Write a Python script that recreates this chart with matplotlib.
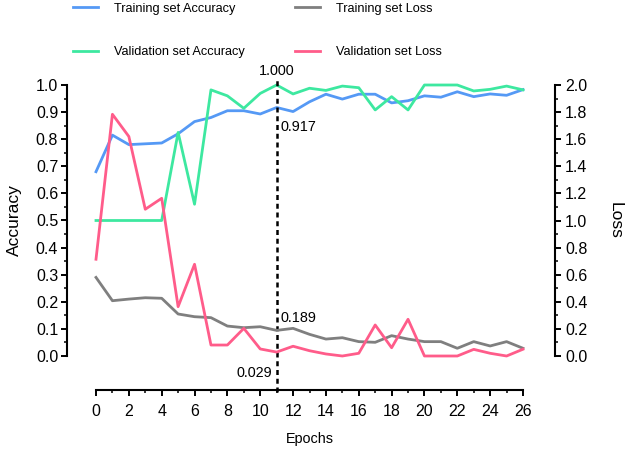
import numpy as np
import matplotlib.pyplot as plt
from matplotlib.ticker import MultipleLocator

plt.rcParams['font.family'] = ['Liberation Sans', 'DejaVu Sans']

epochs = np.arange(27)
train_acc = [0.68, 0.815, 0.78, 0.783, 0.786, 0.82, 0.865, 0.88, 0.905, 0.905,
             0.893, 0.917, 0.902, 0.938, 0.966, 0.948, 0.966, 0.966, 0.934, 0.942,
             0.96, 0.955, 0.975, 0.957, 0.967, 0.962, 0.983]
val_acc = [0.5, 0.5, 0.5, 0.5, 0.5, 0.825, 0.56, 0.982, 0.96, 0.914,
           0.969, 1.0, 0.967, 0.988, 0.98, 0.996, 0.99, 0.908, 0.957, 0.908,
           1.0, 1.0, 1.0, 0.978, 0.984, 0.996, 0.982]
train_loss = [0.58, 0.408, 0.42, 0.43, 0.426, 0.31, 0.29, 0.283, 0.221, 0.209,
              0.216, 0.189, 0.204, 0.16, 0.125, 0.135, 0.106, 0.101, 0.15, 0.125,
              0.106, 0.106, 0.057, 0.106, 0.074, 0.106, 0.057]
val_loss = [0.714, 1.784, 1.62, 1.083, 1.164, 0.364, 0.677, 0.081, 0.081, 0.204,
            0.052, 0.029, 0.072, 0.039, 0.015, 0.0, 0.02, 0.229, 0.061, 0.271,
            0.0, 0.0, 0.0, 0.049, 0.02, 0.0, 0.05]
best_epoch = 11

c_ta = '#5599f5'
c_va = '#3de8a0'
c_tl = '#7f7f7f'
c_vl = '#ff5c8a'

fig = plt.figure(figsize=(6.29, 4.49), dpi=100)
ax = fig.add_axes([96 / 629, 1 - 356 / 449, 427 / 629, 271 / 449])
ax2 = ax.twinx()

l1, = ax.plot(epochs, train_acc, color=c_ta, lw=2, clip_on=False, zorder=3)
l2, = ax.plot(epochs, val_acc, color=c_va, lw=2, clip_on=False, zorder=3)
l3, = ax2.plot(epochs, train_loss, color=c_tl, lw=2, clip_on=False, zorder=3)
l4, = ax2.plot(epochs, val_loss, color=c_vl, lw=2, clip_on=False, zorder=3)

ax.set_xlim(0, 26)
ax.set_ylim(0, 1)
ax2.set_ylim(0, 2)

# dashed marker at the best epoch
ax.plot([best_epoch, best_epoch], [-0.133, 1.026], color='black', lw=1.8,
        ls=(0, (2, 1.5)), clip_on=False, zorder=4)

fs = 10.4
ax.text(best_epoch, 1.027, '%.3f' % val_acc[best_epoch], ha='center', va='bottom', fontsize=fs)
ax.text(best_epoch + 0.25, train_acc[best_epoch] - 0.045, '%.3f' % train_acc[best_epoch],
        ha='left', va='top', fontsize=fs)
ax2.text(best_epoch + 0.25, train_loss[best_epoch] + 0.04, '%.3f' % train_loss[best_epoch],
         ha='left', va='bottom', fontsize=fs)
ax2.text(best_epoch - 0.25, val_loss[best_epoch] - 0.1, '%.3f' % val_loss[best_epoch],
         ha='right', va='top', fontsize=fs)

for a in (ax, ax2):
    a.spines['top'].set_visible(False)
    a.spines['bottom'].set_visible(False)
ax.spines['right'].set_visible(False)
ax2.spines['left'].set_visible(False)
ax.spines['bottom'].set_visible(True)
ax.spines['left'].set_position(('outward', 29 * 0.72))
ax.spines['bottom'].set_position(('outward', 34 * 0.72))
ax2.spines['right'].set_position(('outward', 32 * 0.72))
for s in (ax.spines['left'], ax.spines['bottom'], ax2.spines['right']):
    s.set_linewidth(1.5)

ax.xaxis.set_major_locator(MultipleLocator(2))
ax.xaxis.set_minor_locator(MultipleLocator(1))
ax.yaxis.set_major_locator(MultipleLocator(0.1))
ax.yaxis.set_minor_locator(MultipleLocator(0.05))
ax2.yaxis.set_major_locator(MultipleLocator(0.2))
ax2.yaxis.set_minor_locator(MultipleLocator(0.1))
ax.yaxis.set_major_formatter(lambda v, p: '%.1f' % v)
ax2.yaxis.set_major_formatter(lambda v, p: '%.1f' % v)

for a in (ax, ax2):
    a.tick_params(which='major', length=4.3, width=1.4, labelsize=11.5, pad=2)
    a.tick_params(which='minor', length=2.3, width=1.1)
ax.tick_params(axis='x', which='major', pad=6)
ax2.tick_params(axis='y', which='major', pad=3)

ax.set_xlabel('Epochs', fontsize=fs, labelpad=9)
ax.set_ylabel('Accuracy', fontsize=12.5, labelpad=10)
ax2.set_ylabel('Loss', fontsize=12.5, rotation=270, labelpad=25)

fig.legend([l1, l2, l3, l4],
           ['Training set Accuracy', 'Validation set Accuracy',
            'Training set Loss', 'Validation set Loss'],
           ncol=2, loc='upper left', bbox_to_anchor=(61 / 629, 1.02),
           frameon=False, fontsize=9.2, handlelength=2.0, handletextpad=1.25,
           columnspacing=3.9, labelspacing=2.5)

fig.savefig('out.png', dpi=100)
